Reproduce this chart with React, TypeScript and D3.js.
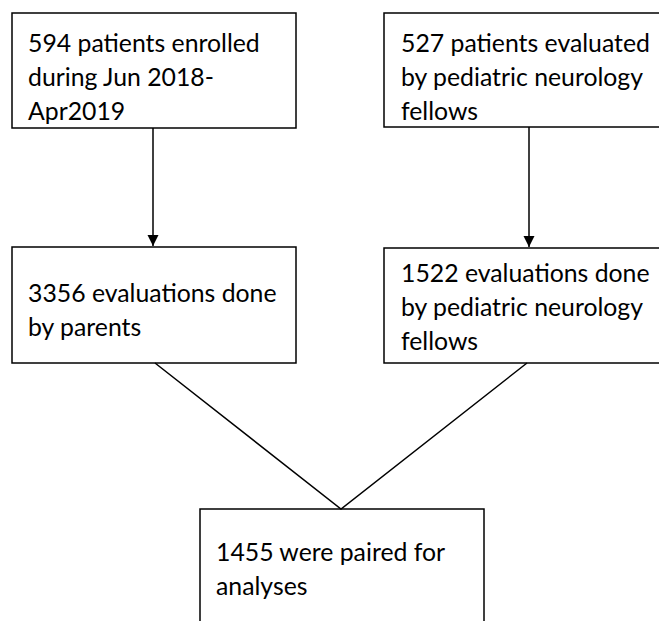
import { useEffect, useRef } from 'react'
import * as d3 from 'd3'

// box contents, one entry per line
const enrolledLines = ['594 patients enrolled', 'during Jun 2018-', 'Apr2019']
const fellowsPatientsLines = ['527 patients evaluated', 'by pediatric neurology', 'fellows']
const parentEvalLines = ['3356 evaluations done', 'by parents']
const fellowEvalLines = ['1522 evaluations done', 'by pediatric neurology', 'fellows']
const pairedLines = ['1455 were paired for', 'analyses']

const W = 659
const H = 621
const FONT = 'Lato, "Open Sans", sans-serif'
const FONT_SIZE = 24.8
const LINE_H = 34

export default function App() {
  const ref = useRef<SVGSVGElement>(null)

  useEffect(() => {
    if (!ref.current) return
    const svg = d3.select(ref.current)
    svg.selectAll('*').remove()

    svg.append('defs').append('marker')
      .attr('id', 'arrow')
      .attr('viewBox', '0 0 10 10')
      .attr('refX', 10)
      .attr('refY', 5)
      .attr('markerWidth', 11)
      .attr('markerHeight', 12)
      .attr('markerUnits', 'userSpaceOnUse')
      .attr('orient', 'auto')
      .append('path')
      .attr('d', 'M0,0L10,5L0,10Z')
      .attr('fill', '#000')

    // layout: x, y, w, h, first baseline, text x
    const boxes = [
      { lines: enrolledLines, x: 12, y: 13, w: 284, h: 115, base: 52, tx: 28 },
      { lines: fellowsPatientsLines, x: 384, y: 13, w: 300, h: 114, base: 52, tx: 401 },
      { lines: parentEvalLines, x: 12, y: 247, w: 284, h: 116, base: 302, tx: 28 },
      { lines: fellowEvalLines, x: 384, y: 248, w: 300, h: 115, base: 282, tx: 401 },
      { lines: pairedLines, x: 200, y: 509, w: 284, h: 140, base: 561, tx: 216 },
    ]

    const g = svg.append('g')
    boxes.forEach(b => {
      g.append('rect')
        .attr('x', b.x)
        .attr('y', b.y)
        .attr('width', b.w)
        .attr('height', b.h)
        .attr('fill', '#fff')
        .attr('stroke', '#000')
        .attr('stroke-width', 1.5)
      const t = g.append('text')
        .attr('font-family', FONT)
        .attr('font-size', FONT_SIZE)
        .attr('fill', '#000')
      b.lines.forEach((line, i) => {
        t.append('tspan')
          .attr('x', b.tx)
          .attr('y', b.base + i * LINE_H)
          .text(line)
      })
    })

    const line = d3.line<[number, number]>()

    // vertical arrows
    const arrows: [number, number][][] = [
      [[153, 128], [153, 246]],
      [[529, 127], [529, 247]],
    ]
    arrows.forEach(a => {
      g.append('path')
        .attr('d', line(a))
        .attr('fill', 'none')
        .attr('stroke', '#000')
        .attr('stroke-width', 1.5)
        .attr('marker-end', 'url(#arrow)')
    })

    // converging lines to the paired box
    g.append('path')
      .attr('d', line([[155, 363], [341, 509], [527, 363]]))
      .attr('fill', 'none')
      .attr('stroke', '#000')
      .attr('stroke-width', 1.5)
  }, [])

  return (
    <svg
      ref={ref}
      width={W}
      height={H}
      style={{ display: 'block', position: 'absolute', left: 0, top: 0, background: '#fff' }}
    />
  )
}
